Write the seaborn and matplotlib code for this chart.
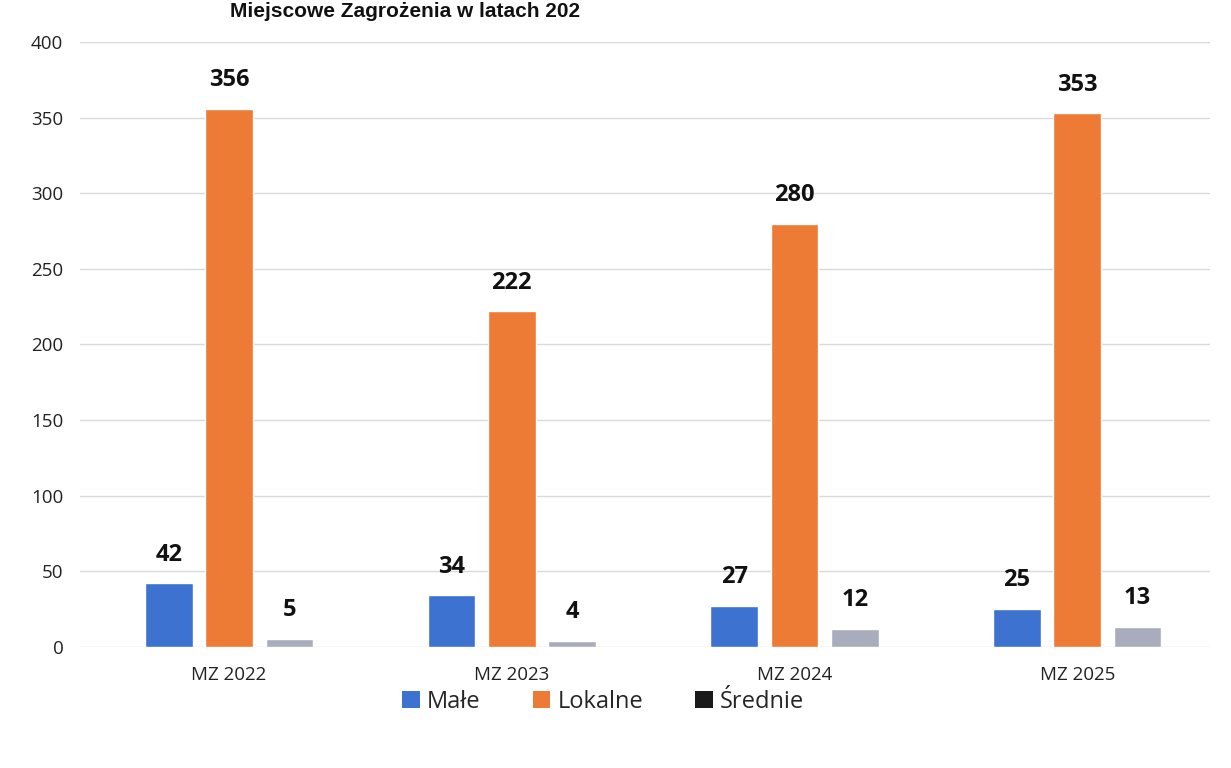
import matplotlib
matplotlib.use("Agg")
import matplotlib.pyplot as plt
from matplotlib.patches import Patch
import seaborn as sns
import pandas as pd

# dane z wykresu
lata = ["MZ 2022", "MZ 2023", "MZ 2024", "MZ 2025"]
rodzaje = ["Małe", "Lokalne", "Średnie"]
male = [42, 34, 27, 25]
lokalne = [356, 222, 280, 353]
srednie = [5, 4, 12, 13]
y_ticks = [0, 50, 100, 150, 200, 250, 300, 350, 400]

kolory = ["#3D72D1", "#ED7A35", "#A9ACBD"]
kolory_legendy = ["#3D72D1", "#ED7A35", "#1A1A1A"]

df = pd.DataFrame({
    "Rok": lata * 3,
    "Rodzaj": [r for r in rodzaje for _ in lata],
    "Liczba": male + lokalne + srednie,
})

sns.set_theme(style="white")
plt.rcParams['font.family'] = ['Open Sans', 'DejaVu Sans']

fig = plt.figure(figsize=(12.31, 7.68), dpi=100, facecolor="white")
ax = fig.add_axes([0.065, 0.158, 0.918, 0.787])

sns.barplot(data=df, x="Rok", y="Liczba", hue="Rodzaj", palette=kolory,
            width=0.64, gap=0.21, saturation=1, legend=False, ax=ax)

for container in ax.containers:
    ax.bar_label(container, fmt="%d", padding=12, fontsize=17, fontweight="bold",
                 color="#111111")

ax.set_ylim(0, 400)
ax.set_xlim(-0.527, 3.47)
ax.set_yticks(y_ticks)
ax.yaxis.grid(True, color="#DADADA", linewidth=1)
ax.set_axisbelow(True)
ax.set_xlabel("")
ax.set_ylabel("")
ax.tick_params(axis="both", length=0, labelsize=13.5, colors="#222222")
ax.tick_params(axis="x", pad=14)
ax.tick_params(axis="y", pad=12)
sns.despine(ax=ax, left=True, bottom=True)

uchwyty = [Patch(facecolor=c, edgecolor="none") for c in kolory_legendy]
fig.legend(uchwyty, rodzaje, loc="center", bbox_to_anchor=(0.49, 0.086), ncol=3,
           frameon=False, fontsize=17, handlelength=0.75, handleheight=0.75,
           handletextpad=0.3, columnspacing=2.2)

# tytuł (w oryginale częściowo obcięty przy skanowaniu)
fig.text(0.187, 0.998, "Miejscowe Zagrożenia w latach 202", fontsize=15,
         fontweight="bold", family=["Liberation Sans", "DejaVu Sans"],
         ha="left", va="top", color="#111111")

fig.savefig("out.png", dpi=100, facecolor="white")
